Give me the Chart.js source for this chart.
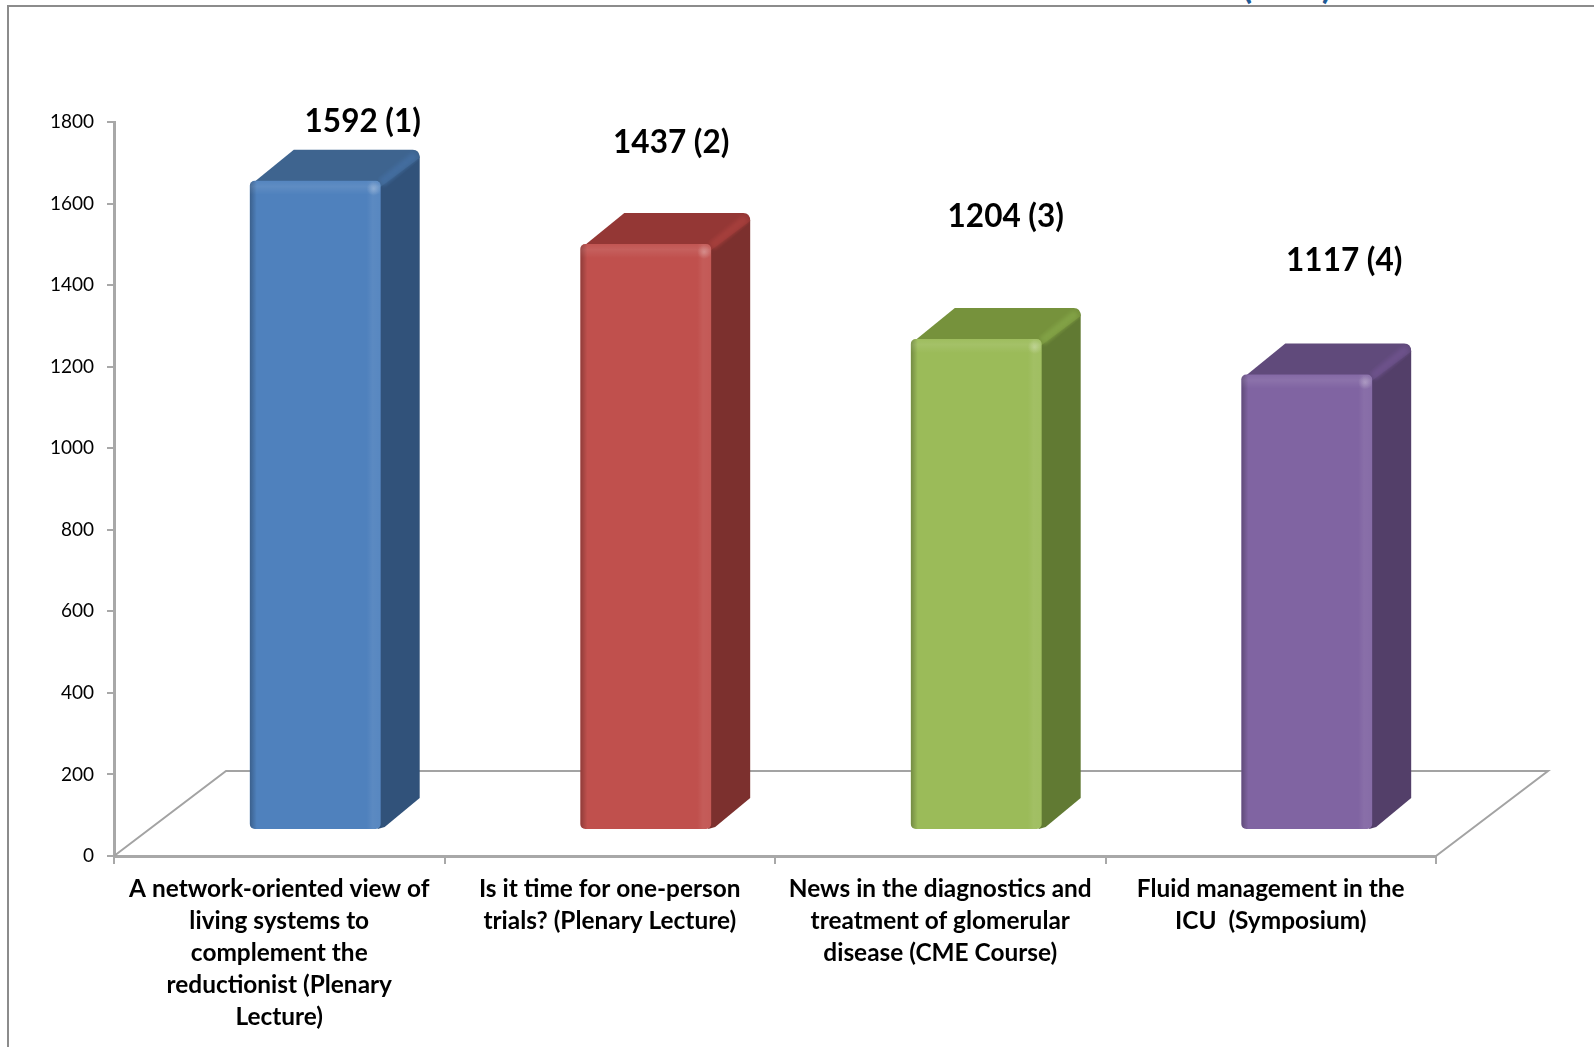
<!DOCTYPE html>
<html lang="en" dir="ltr">
  <head>
    <meta charset="utf-8">
    <title>Bars with depth</title>
    <script src="https://cdn.jsdelivr.net/npm/chart.js@4/dist/chart.umd.min.js"></script>
    <style>
      html, body { margin: 0; padding: 0; background: #fff; overflow: hidden; }
      #frame { position: absolute; left: 7px; top: 5px; width: 1600px; height: 1060px; border: 2px solid #8c8c8c; box-sizing: border-box; }
      #cut { position: absolute; left: 1243px; top: -28px; width: 88px; display: flex; justify-content: space-between; font: 900 32px/30px Lato, sans-serif; color: #1f5a96; }
      canvas { position: absolute; left: 0; top: 0; }
    </style>
  </head>
  <body>
    <div id="frame"></div>
    <div id="cut"><span>(</span><span>)</span></div>
    <canvas id="chart" width="1594" height="1047"></canvas>
    <script>
      const categories = [
        ['A network-oriented view of', 'living systems to', 'complement the', 'reductionist (Plenary', 'Lecture)'],
        ['Is it time for one-person', 'trials? (Plenary Lecture)'],
        ['News in the diagnostics and', 'treatment of glomerular', 'disease (CME Course)'],
        ['Fluid management in the', 'ICU  (Symposium)']
      ];
      const values = [1592, 1437, 1204, 1117];
      const valueLabels = ['1592 (1)', '1437 (2)', '1204 (3)', '1117 (4)'];

      const frontColors = ['#4f81bd', '#c0504d', '#9bbb59', '#8064a2'];
      const topColors = ['#3e648f', '#943735', '#76923c', '#604a7b'];
      const sideColors = ['#31527a', '#7c302e', '#617a33', '#533f69'];
      const edgeColors = ['#436d9f', '#a53f3c', '#82a246', '#6d528b'];

      // the bars stand in the middle of the floor, this is how far they are moved
      const barShift = { x: 36, y: -26 };
      const barDepth = { x: 39, y: -31 };
      const floorDepth = { x: 112, y: -85 };
      // text boxes were placed by hand in the original
      const labelShift = [[28, -28], [6, -70], [10, -91], [18, -83]];

      const fakeBox = {
        id: 'fakeBox',
        beforeDatasetsDraw(chart) {
          const ctx = chart.ctx;
          const area = chart.chartArea;
          ctx.save();
          ctx.strokeStyle = '#a3a3a3';
          ctx.lineWidth = 2;
          ctx.beginPath();
          ctx.moveTo(area.left, area.bottom);
          ctx.lineTo(area.left + floorDepth.x, area.bottom + floorDepth.y);
          ctx.lineTo(area.right + floorDepth.x, area.bottom + floorDepth.y);
          ctx.lineTo(area.right, area.bottom);
          ctx.stroke();
          ctx.restore();

          // stays translated until afterDatasetsDraw, so the bars move too
          ctx.save();
          ctx.translate(barShift.x, barShift.y);
          chart.getDatasetMeta(0).data.forEach((bar, i) => {
            const left = bar.x - bar.width / 2;
            const right = bar.x + bar.width / 2;
            const dx = barDepth.x;
            const dy = barDepth.y;
            // side face
            ctx.fillStyle = sideColors[i];
            ctx.beginPath();
            ctx.moveTo(right - 3, bar.y + 3);
            ctx.lineTo(right + dx - 6, bar.y + dy + 3);
            ctx.quadraticCurveTo(right + dx, bar.y + dy + 2, right + dx, bar.y + dy + 8);
            ctx.lineTo(right + dx, bar.base + dy);
            ctx.lineTo(right + 4, bar.base - 2);
            ctx.lineTo(right - 3, bar.base);
            ctx.closePath();
            ctx.fill();
            // top face
            ctx.beginPath();
            ctx.moveTo(left + 1, bar.y + 4);
            ctx.lineTo(left + dx + 5, bar.y + dy);
            ctx.lineTo(right + dx - 7, bar.y + dy);
            ctx.quadraticCurveTo(right + dx, bar.y + dy, right + dx, bar.y + dy + 8);
            ctx.lineTo(right, bar.y + 6);
            ctx.closePath();
            ctx.fillStyle = topColors[i];
            ctx.fill();
            // lighter strip on the edge between top and side
            ctx.save();
            ctx.beginPath();
            ctx.moveTo(right - 3, bar.y - 3);
            ctx.lineTo(right + dx - 10, bar.y + dy);
            ctx.quadraticCurveTo(right + dx, bar.y + dy, right + dx, bar.y + dy + 10);
            ctx.lineTo(right, bar.y + 12);
            ctx.closePath();
            ctx.clip();
            ctx.filter = 'blur(2px)';
            ctx.strokeStyle = edgeColors[i];
            ctx.lineWidth = 8;
            ctx.beginPath();
            ctx.moveTo(right, bar.y + 2);
            ctx.lineTo(right + dx - 4, bar.y + dy + 5);
            ctx.stroke();
            ctx.restore();
          });
        },
        afterDatasetsDraw(chart) {
          const ctx = chart.ctx;
          chart.getDatasetMeta(0).data.forEach((bar, i) => {
            const left = bar.x - bar.width / 2;
            const top = bar.y;
            const w = bar.width;
            const h = bar.base - bar.y;
            ctx.save();
            ctx.beginPath();
            ctx.roundRect(left, top, w, h, 5);
            ctx.clip();
            // soft bevel along the edges
            const across = ctx.createLinearGradient(left, 0, left + w, 0);
            across.addColorStop(0, 'rgba(0,0,0,0.26)');
            across.addColorStop(7 / w, 'rgba(0,0,0,0)');
            across.addColorStop(1 - 14 / w, 'rgba(255,255,255,0)');
            across.addColorStop(1 - 8 / w, 'rgba(255,255,255,0.07)');
            across.addColorStop(1, 'rgba(255,255,255,0.05)');
            ctx.fillStyle = across;
            ctx.fillRect(left, top, w, h);
            const down = ctx.createLinearGradient(0, top, 0, top + 14);
            down.addColorStop(0, 'rgba(255,255,255,0.03)');
            down.addColorStop(0.4, 'rgba(255,255,255,0.09)');
            down.addColorStop(1, 'rgba(255,255,255,0)');
            ctx.fillStyle = down;
            ctx.fillRect(left, top, w, 14);
            // small shine where the edges meet
            const shine = ctx.createRadialGradient(left + w - 7, top + 8, 0, left + w - 7, top + 8, 7);
            shine.addColorStop(0, 'rgba(255,255,255,0.25)');
            shine.addColorStop(1, 'rgba(255,255,255,0)');
            ctx.fillStyle = shine;
            ctx.fillRect(left + w - 14, top, 14, 16);
            ctx.restore();
          });
          ctx.restore();

          ctx.save();
          ctx.fillStyle = '#000';
          ctx.font = '700 31.5px Lato, sans-serif';
          ctx.textAlign = 'center';
          ctx.textBaseline = 'middle';
          chart.getDatasetMeta(0).data.forEach((bar, i) => {
            const cx = bar.x + barShift.x + barDepth.x / 2 + labelShift[i][0];
            const cy = bar.y + barShift.y + barDepth.y + labelShift[i][1];
            ctx.fillText(valueLabels[i], cx, cy);
          });
          ctx.restore();
        }
      };

      new Chart(document.getElementById('chart').getContext('2d'), {
        type: 'bar',
        data: {
          labels: categories,
          datasets: [{
            data: values,
            backgroundColor: frontColors,
            borderWidth: 0,
            borderRadius: 5,
            borderSkipped: false,
            categoryPercentage: 1,
            barPercentage: 0.396
          }]
        },
        plugins: [fakeBox],
        options: {
          responsive: false,
          animation: false,
          layout: { padding: { left: 0, top: 122, right: 158, bottom: 0 } },
          plugins: { legend: { display: false }, tooltip: { enabled: false } },
          scales: {
            x: {
              afterFit: scale => { scale.height = 191; },
              border: { color: '#a8a8a8', width: 3 },
              grid: { drawOnChartArea: false, color: '#a8a8a8', lineWidth: 2, tickLength: 8 },
              ticks: {
                autoSkip: false,
                maxRotation: 0,
                padding: 9,
                color: '#000',
                font: { family: 'Lato, sans-serif', weight: '700', size: 24.4, lineHeight: 1.31 }
              }
            },
            y: {
              min: 0,
              max: 1800,
              afterFit: scale => { scale.width = 114; },
              border: { color: '#a8a8a8', width: 3 },
              grid: { drawOnChartArea: false, color: '#a8a8a8', lineWidth: 2, tickLength: 7 },
              ticks: {
                stepSize: 200,
                padding: 13,
                color: '#000',
                font: { family: 'Lato, sans-serif', size: 19 },
                callback: value => String(value)
              }
            }
          }
        }
      });
    </script>
  </body>
</html>
